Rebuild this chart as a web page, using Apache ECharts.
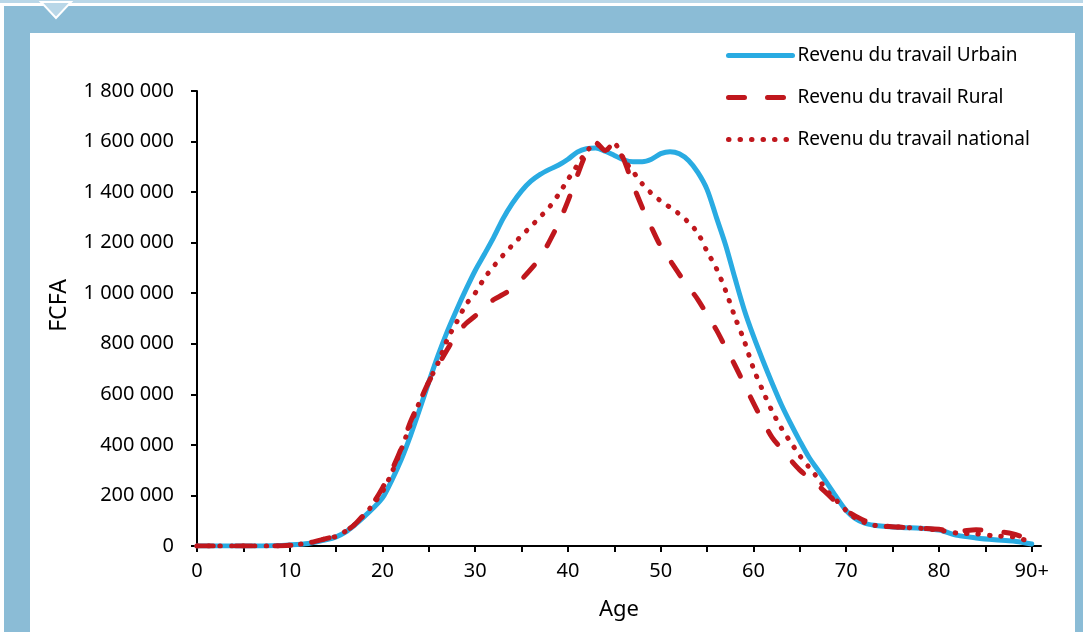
<!DOCTYPE html>
<html>
<head>
<meta charset="utf-8">
<script src="https://cdn.jsdelivr.net/npm/echarts@6/dist/echarts.min.js"></script>
<style>
  html, body { margin: 0; padding: 0; background: #ffffff; }
  #chart { width: 1083px; height: 632px; }
</style>
</head>
<body>
<div id="chart"></div>
<script>
// Age points (years) shared by the three profiles
const ages = [0, 2, 4, 6, 8, 10, 12, 14, 15, 16, 17, 18, 19, 20, 21, 22, 23, 24, 25, 26, 27, 28, 29,
  30, 31, 32, 33, 34, 35, 36, 37, 38, 39, 40, 41, 42, 43, 44, 45, 46, 47, 48, 49,
  50, 51, 52, 53, 54, 55, 56, 57, 58, 59, 60, 61, 62, 63, 64, 65, 66, 67, 68, 69,
  70, 71, 72, 73, 74, 76, 78, 80, 82, 84, 86, 88, 90];

// Labour income per age, FCFA
const urbain = [0, 0, 0, 0, 1000, 4000, 10000, 25000, 36000, 55000, 83000, 115000, 150000, 190000, 260000, 340000, 435000, 540000, 650000, 755000, 850000, 935000, 1015000,
  1090000, 1155000, 1222000, 1295000, 1355000, 1405000, 1443000, 1470000, 1490000, 1507000, 1530000, 1558000, 1572000, 1575000, 1562000, 1545000, 1528000, 1520000, 1520000, 1530000,
  1552000, 1560000, 1552000, 1525000, 1478000, 1410000, 1300000, 1190000, 1060000, 935000, 830000, 735000, 645000, 560000, 485000, 415000, 350000, 298000, 245000, 190000,
  140000, 108000, 90000, 82000, 78000, 73000, 70000, 63000, 42000, 32000, 25000, 20000, 8000];

const rural = [0, 0, 0, 0, 0, 3000, 12000, 30000, 40000, 58000, 85000, 125000, 170000, 230000, 300000, 385000, 490000, 570000, 650000, 715000, 778000, 840000, 880000,
  910000, 945000, 975000, 995000, 1020000, 1055000, 1095000, 1140000, 1205000, 1278000, 1365000, 1465000, 1555000, 1595000, 1565000, 1595000, 1530000, 1430000, 1340000, 1260000,
  1185000, 1130000, 1075000, 1025000, 975000, 915000, 855000, 785000, 715000, 640000, 565000, 495000, 430000, 385000, 340000, 300000, 270000, 238000, 205000, 170000,
  140000, 118000, 100000, 88000, 80000, 74000, 70000, 66000, 58000, 64000, 58000, 48000, 20000];

const national = [0, 0, 0, 0, 0, 3000, 12000, 30000, 38000, 58000, 85000, 122000, 165000, 215000, 290000, 380000, 480000, 570000, 650000, 725000, 818000, 886000, 955000,
  1001000, 1060000, 1107000, 1150000, 1190000, 1228000, 1264000, 1302000, 1341000, 1392000, 1450000, 1506000, 1560000, 1592000, 1565000, 1590000, 1530000, 1482000, 1433000, 1395000,
  1365000, 1340000, 1313000, 1280000, 1238000, 1165000, 1098000, 1010000, 906000, 812000, 702000, 615000, 534000, 467000, 411000, 357000, 311000, 265000, 215000, 178000,
  140000, 110000, 93000, 82000, 78000, 74000, 70000, 62000, 51000, 48000, 40000, 36000, 15000];

// Axis ticks and labels
const xTicks = [0, 5, 10, 15, 20, 25, 30, 35, 40, 45, 50, 55, 60, 65, 70, 75, 80, 85, 90];
const xLabels = [0, 10, 20, 30, 40, 50, 60, 70, 80, 90];
const seriesNames = ['Revenu du travail Urbain', 'Revenu du travail Rural', 'Revenu du travail national'];

const pairs = vals => ages.map((a, i) => [a, vals[i]]);
const fmtThousands = v => String(v).replace(/\B(?=(\d{3})+(?!\d))/g, ' ');

const FONT = 'Noto Sans';
const FRAME = '#8bbcd6';
const BLUE = '#29abe2';
const RED = '#c0171d';

const chart = echarts.init(document.getElementById('chart'), null, { renderer: 'canvas' });

chart.setOption({
  animation: false,
  backgroundColor: '#ffffff',
  textStyle: { fontFamily: FONT, color: '#000' },
  graphic: [
    // frame around the white panel
    { type: 'rect', z: -10, shape: { x: 0, y: 0, width: 1083, height: 3 }, style: { fill: '#b9d7e8' } },
    { type: 'rect', z: -10, shape: { x: 4, y: 6, width: 1079, height: 27 }, style: { fill: FRAME } },
    { type: 'rect', z: -10, shape: { x: 4, y: 6, width: 26, height: 626 }, style: { fill: FRAME } },
    { type: 'rect', z: -10, shape: { x: 1075, y: 6, width: 8, height: 626 }, style: { fill: FRAME } },
    { type: 'polygon', z: -9, shape: { points: [[41, 2], [71, 2], [56, 18]] }, style: { fill: '#b9d7e8', stroke: '#ffffff', lineWidth: 2 } }
  ],
  grid: { left: 197, right: 42, top: 91, bottom: 86, containLabel: false },
  legend: {
    orient: 'vertical',
    left: 726,
    top: 46,
    padding: 0,
    itemWidth: 64,
    itemHeight: 20,
    itemGap: 23,
    itemStyle: { opacity: 0 },
    lineStyle: { width: 5 },
    textStyle: { fontFamily: FONT, fontSize: 19, color: '#000' },
    data: seriesNames
  },
  xAxis: {
    type: 'value',
    min: 0,
    max: 91,
    interval: 5,
    name: 'Age',
    nameLocation: 'middle',
    nameGap: 53,
    nameTextStyle: { fontFamily: FONT, fontSize: 22, color: '#000' },
    axisLine: { show: true, onZero: false, lineStyle: { color: '#000', width: 2 } },
    axisTick: { show: true, inside: false, length: 6, lineStyle: { color: '#000', width: 2 }, customValues: xTicks },
    axisLabel: {
      fontFamily: FONT, fontSize: 20, color: '#000', margin: 15,
      customValues: xLabels,
      formatter: v => (v === 90 ? '90+' : String(v))
    },
    splitLine: { show: false }
  },
  yAxis: {
    type: 'value',
    min: 0,
    max: 1800000,
    interval: 200000,
    name: 'FCFA',
    nameLocation: 'middle',
    nameGap: 126,
    nameTextStyle: { fontFamily: FONT, fontSize: 23, color: '#000', padding: [0, 0, 0, 26] },
    axisLine: { show: true, lineStyle: { color: '#000', width: 2 } },
    axisTick: { show: true, length: 6, lineStyle: { color: '#000', width: 2 } },
    axisLabel: { fontFamily: FONT, fontSize: 20, color: '#000', margin: 23, formatter: fmtThousands },
    splitLine: { show: false }
  },
  series: [
    {
      name: seriesNames[0], type: 'line', data: pairs(urbain), smooth: 0.3,
      symbol: 'none', z: 2,
      lineStyle: { color: BLUE, width: 5, cap: 'round', join: 'round' },
      itemStyle: { color: BLUE }
    },
    {
      name: seriesNames[1], type: 'line', data: pairs(rural), smooth: 0.3,
      symbol: 'none', z: 3,
      lineStyle: { color: RED, width: 5, type: [16, 23], cap: 'round', join: 'round' },
      itemStyle: { color: RED }
    },
    {
      name: seriesNames[2], type: 'line', data: pairs(national), smooth: 0.3,
      symbol: 'none', z: 4,
      lineStyle: { color: RED, width: 5, type: [0.5, 11], cap: 'round', join: 'round' },
      itemStyle: { color: RED }
    }
  ]
});
</script>
</body>
</html>
